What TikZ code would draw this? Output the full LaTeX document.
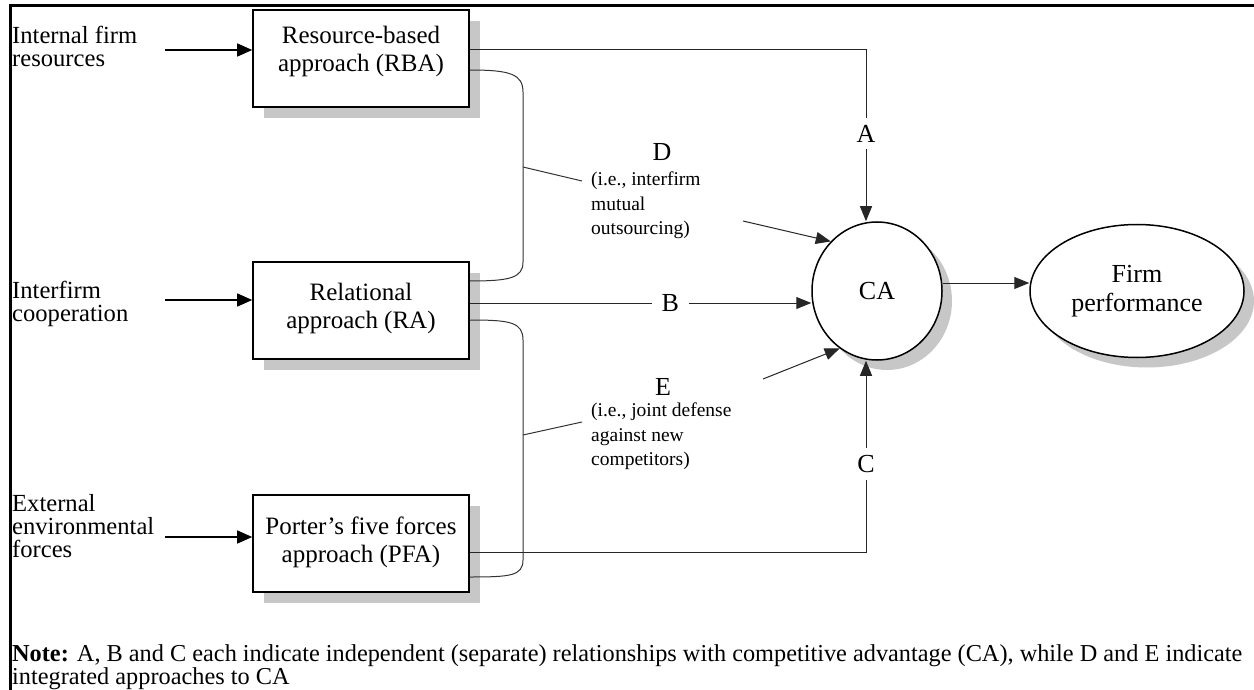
\documentclass[tikz,border=0pt]{standalone}
\usepackage{fontspec}
\setmainfont{Liberation Serif}
\usetikzlibrary{arrows.meta,shapes.geometric,shadows}
\begin{document}
\begin{tikzpicture}[x=1pt,y=-1pt,
  box/.style={draw, line width=1.6pt, fill=white, minimum width=216pt, minimum height=97pt, inner sep=0pt,
    drop shadow={shadow xshift=11pt, shadow yshift=-11pt, fill=black!22, opacity=1}},
  oval/.style={ellipse, draw, line width=1.5pt, fill=white, inner sep=0pt, align=center,
    font=\fontsize{26}{29}\selectfont,
    drop shadow={shadow xshift=10pt, shadow yshift=-10pt, fill=black!22, opacity=1}},
  boxtxt/.style={font=\fontsize{25}{28}\selectfont, align=center, inner sep=0pt},
  side/.style={font=\fontsize{24.6}{23}\selectfont, align=left, anchor=north west, inner sep=0pt},
  small/.style={font=\fontsize{19.5}{24.5}\selectfont, align=left, anchor=north west, inner sep=0pt},
  letter/.style={font=\fontsize{26}{26}\selectfont, inner sep=0pt},
  tag/.style={font=\fontsize{26}{26}\selectfont, fill=white, inner xsep=10pt, inner ysep=7pt},
  inarrow/.style={line width=1.3pt, -{Triangle[length=15pt,width=13pt]}},
  link/.style={line width=1pt, draw=black!80},
  linkarrow/.style={line width=1pt, draw=black!85, -{Triangle[length=15pt,width=12pt]}}
]
\useasboundingbox (0,0) rectangle (1254,690);

% frame
\draw[line width=3pt] (10,692) -- (10,6) -- (1256,6);

% approach boxes
\node[box] (rba) at (361,58.5) {};
\node[box] (ra)  at (361,310.5) {};
\node[box] (pfa) at (361,543.5) {};
\node[boxtxt] (rbatxt) at (361,51) {Resource-based\\approach (RBA)};
\node[boxtxt] (ratxt)  at (361,308) {Relational\\approach (RA)};
\node[boxtxt] (pfatxt) at (361,542) {Porter’s five forces\\approach (PFA)};

% outcomes
\node[oval, minimum width=130pt, minimum height=138pt] (ca) at (877,291) {CA};
\node[oval, minimum width=214pt, minimum height=133pt] (firm) at (1137,291) {Firm\\performance};

% inputs on the left
\node[side] (in1txt) at (12,26) {Internal firm\\resources};
\node[side] (in2txt) at (12,281) {Interfirm\\cooperation};
\node[side] (in3txt) at (12,494) {External\\environmental\\forces};
\coordinate (in1) at (165,50);
\coordinate (in2) at (165,300);
\coordinate (in3) at (165,537);
\draw[inarrow] (in1) -- (rba.west |- in1);
\draw[inarrow] (in2) -- (ra.west |- in2);
\draw[inarrow] (in3) -- (pfa.west |- in3);

% independent relationships A, B, C
\coordinate (acorner) at (866,50);
\coordinate (ccorner) at (866,552);
\draw[linkarrow] ([yshift=8.5pt]rba.east) -- (acorner) -- node[tag, pos=0.49] (atag) {A} ([xshift=-11pt]ca.north);
\draw[linkarrow] ([yshift=7.5pt]ra.east) -- node[tag, pos=0.587] (btag) {B} ([yshift=-12pt]ca.west);
\draw[linkarrow] ([yshift=-8.5pt]pfa.east) -- (ccorner) -- node[tag, pos=0.46] (ctag) {C} ([xshift=-11pt]ca.south);

% integrated approach D
\draw[link] ([yshift=-11.5pt]rba.east) .. controls +(40,0) and +(0,-18) .. (523,92) -- (523,262)
  .. controls +(0,16) and +(40,0) .. ([yshift=29.5pt]ra.east);
\coordinate (dj) at (523,167);
\coordinate (dt) at (582,181);
\draw[link] (dj) -- (dt);
\node[letter] (dlet) at (662,152) {D};
\node[small] (dtxt) at (591,172) {(i.e., interfirm\\mutual\\outsourcing)};
\coordinate (dfrom) at (743,221);
\draw[linkarrow] (dfrom) -- (ca.133);

% integrated approach E
\draw[link] ([yshift=-9.5pt]ra.east) .. controls +(40,0) and +(0,-18) .. (523,340) -- (523,560)
  .. controls +(0,16) and +(40,0) .. ([yshift=-33.5pt]pfa.east);
\coordinate (ej) at (523,435);
\coordinate (et) at (582,422);
\draw[link] (ej) -- (et);
\node[letter] (elet) at (663,387) {E};
\node[small] (etxt) at (591,403) {(i.e., joint defense\\against new\\competitors)};
\coordinate (efrom) at (763,379);
\draw[linkarrow] (efrom) -- (ca.237);

% CA drives firm performance
\draw[linkarrow] ([yshift=8pt]ca.east) -- ([yshift=8pt]firm.west);

% note
\node[anchor=north west, inner sep=0pt, align=left, font=\fontsize{24.3}{23}\selectfont] (note) at (12,644)
  {\textbf{Note:} A, B and C each indicate independent (separate) relationships with competitive advantage (CA), while D and E indicate\\integrated approaches to CA};
\end{tikzpicture}
\end{document}
